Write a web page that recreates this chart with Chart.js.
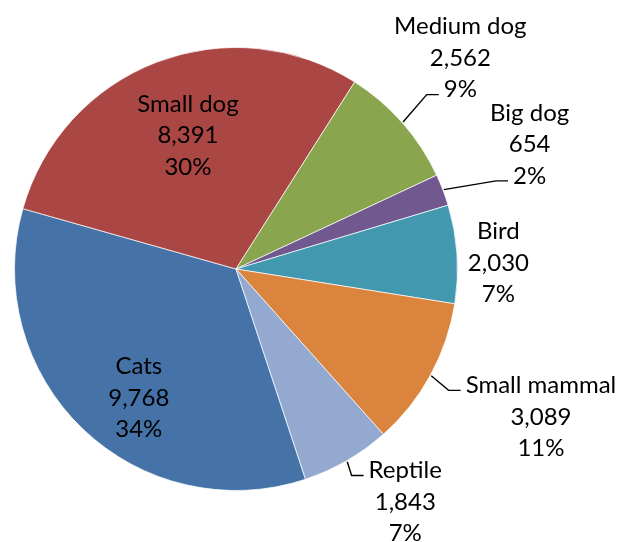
<!DOCTYPE html>
<html>
<head>
<meta charset="utf-8">
<title>Pets</title>
<script src="https://cdn.jsdelivr.net/npm/chart.js@4.4.1/dist/chart.umd.min.js"></script>
<style>
    html, body { margin: 0; padding: 0; background: #ffffff; }
    #wrap { width: 619px; height: 542px; position: relative; }
</style>
</head>
<body>
<div id="wrap"><canvas id="petChart"></canvas></div>
<script>
// Chart data
const categories = ['Cats', 'Small dog', 'Medium dog', 'Big dog', 'Bird', 'Small mammal', 'Reptile'];
const petCounts = [9768, 8391, 2562, 654, 2030, 3089, 1843];
const sliceColors = ['#4572A7', '#AA4643', '#89A54E', '#71588F', '#4198AF', '#DB843D', '#93A9CF'];

// Label placement relative to each slice: distance (x outer radius), angle shift (deg), leader line
const labelPlacement = [
    { dist: 0.73, shift: -6.8, leader: false },
    { dist: 0.64, shift: 1.1, leader: false },
    { dist: 1.39, shift: -1.9, leader: true },
    { dist: 1.44, shift: -2.1, leader: true },
    { dist: 1.185, shift: 2.5, leader: false },
    { dist: 1.53, shift: -2.8, leader: true },
    { dist: 1.30, shift: -6.0, leader: true }
];

// Draw the data labels and leader lines
const sliceLabels = {
    id: 'sliceLabels',
    afterDatasetsDraw(chart) {
        const ctx = chart.ctx;
        const meta = chart.getDatasetMeta(0);
        const values = chart.data.datasets[0].data;
        const total = values.reduce((a, b) => a + b, 0);
        const lineHeight = 31.5;

        ctx.save();
        ctx.font = '24px Lato';
        ctx.textAlign = 'center';
        ctx.textBaseline = 'middle';
        ctx.fillStyle = '#000000';
        ctx.strokeStyle = '#000000';
        ctx.lineWidth = 1.4;

        meta.data.forEach((arc, i) => {
            const p = arc.getProps(['x', 'y', 'startAngle', 'endAngle', 'outerRadius'], true);
            const mid = (p.startAngle + p.endAngle) / 2;
            const place = labelPlacement[i];
            const a = mid + place.shift * Math.PI / 180;
            const r = p.outerRadius * place.dist;
            const cx = p.x + Math.cos(a) * r;
            const cy = p.y + Math.sin(a) * r;

            const lines = [
                chart.data.labels[i],
                values[i].toLocaleString('en-US'),
                Math.round(values[i] / total * 100) + '%'
            ];
            lines.forEach((text, k) => {
                ctx.fillText(text, cx, cy + (k - 1) * lineHeight);
            });

            if (place.leader) {
                const k = cy < p.y ? 2 : 0;
                const w = ctx.measureText(lines[k]).width;
                const endX = cx - w / 2 - 5;
                const endY = cy + (k - 1) * lineHeight + 5;
                const elbowX = endX - 12;
                const startX = p.x + Math.cos(mid) * (p.outerRadius + 1);
                const startY = p.y + Math.sin(mid) * (p.outerRadius + 1);
                ctx.beginPath();
                ctx.moveTo(startX, startY);
                ctx.lineTo(elbowX, endY);
                ctx.lineTo(endX, endY);
                ctx.stroke();
            }
        });
        ctx.restore();
    }
};

function initializePetChart() {
    const ctx = document.getElementById('petChart');
    if (!ctx) return;

    new Chart(ctx, {
        type: 'pie',
        data: {
            labels: categories,
            datasets: [{
                data: petCounts,
                backgroundColor: sliceColors,
                borderColor: 'rgba(255, 255, 255, 0.7)',
                borderWidth: 1
            }]
        },
        options: {
            responsive: true,
            maintainAspectRatio: false,
            animation: false,
            rotation: 161.7,
            layout: {
                padding: { left: 14, right: 161, top: 47, bottom: 51 }
            },
            plugins: {
                legend: { display: false },
                tooltip: { enabled: false }
            }
        },
        plugins: [sliceLabels]
    });
}

document.addEventListener('DOMContentLoaded', initializePetChart);
</script>
</body>
</html>
